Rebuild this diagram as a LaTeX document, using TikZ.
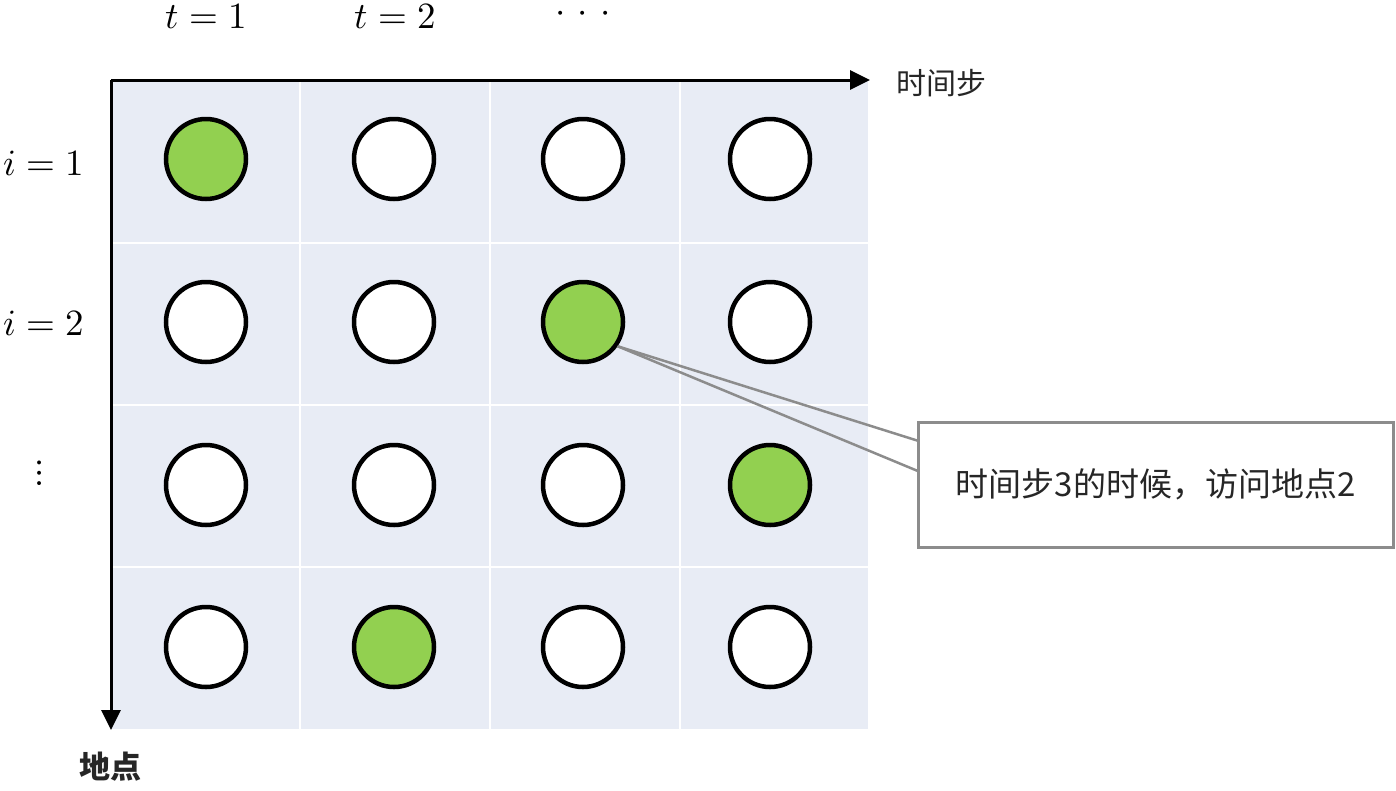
\documentclass[tikz,border=0pt]{standalone}
\usepackage{unicode-math}
\setmathfont{Latin Modern Math}
\newfontfamily\cjk{Noto Sans CJK SC}
\usetikzlibrary{arrows.meta}
\definecolor{cellbg}{HTML}{E8ECF5}
\definecolor{visit}{HTML}{92D050}
\definecolor{txtgray}{HTML}{262626}
\definecolor{callgray}{HTML}{8C8C8C}
\tikzset{
  dot/.style={circle, draw=black, line width=4.5pt, minimum size=80pt, inner sep=0pt, fill=white},
  hit/.style={dot, fill=visit},
  axis/.style={line width=3pt, -{Triangle[length=20pt,width=19pt]}},
  mathlbl/.style={inner sep=0pt, font=\fontsize{37}{42}\selectfont},
  cjklbl/.style={inner sep=0pt, text=txtgray, font=\cjk\fontsize{30}{34}\selectfont},
  callbox/.style={draw=callgray, line width=3pt, fill=white, minimum width=475pt, minimum height=125pt, inner sep=0pt, text=txtgray, font=\cjk\fontsize{33}{37}\selectfont},
  pointer/.style={draw=callgray, line width=2.5pt}
}
\begin{document}
\begin{tikzpicture}[x=1pt, y=-1pt]
\useasboundingbox (0,0) rectangle (1396,790);
% grid background
\fill[cellbg] (111,80) rectangle (868,729);
\foreach \gx in {300,490,680} \draw[white, line width=2pt] (\gx,80) -- (\gx,729);
\foreach \gy in {243,405,567} \draw[white, line width=2pt] (111,\gy) -- (868,\gy);
% axes
\coordinate (O) at (111,80);
\coordinate (xend) at (870,80);
\coordinate (yend) at (111,730);
\draw[axis] (O) -- (xend);
\draw[axis] (O) -- (yend);
\node[cjklbl, anchor=west] (xl) at (896,83) {时间步};
\node[cjklbl, anchor=center, font=\cjk\bfseries\fontsize{31}{34}\selectfont] (yl) at (110,767) {地点};
% top labels
\node[mathlbl, anchor=base] (t1) at (206,28) {$t=1$};
\node[mathlbl, anchor=base] (t2) at (395,28) {$t=2$};
\node[mathlbl, anchor=base] (tdots) at (583,22) {${\cdot}\mkern6mu{\cdot}\mkern6mu{\cdot}$};
% left labels
\node[mathlbl, anchor=base east] (i1) at (84,175) {$i=1$};
\node[mathlbl, anchor=base east] (i2) at (84,335) {$i=2$};
\node[mathlbl] (idots) at (40,473) {$\vdots$};
% circles
\node[hit] (c11) at (206,159) {};
\node[dot] (c12) at (394,159) {};
\node[dot] (c13) at (583,159) {};
\node[dot] (c14) at (770,159) {};
\node[dot] (c21) at (206,322) {};
\node[dot] (c22) at (394,322) {};
\node[hit] (c23) at (583,322) {};
\node[dot] (c24) at (770,322) {};
\node[dot] (c31) at (206,485) {};
\node[dot] (c32) at (394,485) {};
\node[dot] (c33) at (583,485) {};
\node[hit] (c34) at (770,485) {};
\node[dot] (c41) at (206,647) {};
\node[hit] (c42) at (394,647) {};
\node[dot] (c43) at (583,647) {};
\node[dot] (c44) at (770,647) {};
% callout
\coordinate (p1) at (925,443);
\coordinate (p2) at (925,474);
\draw[pointer] (c23.-35) -- (p1);
\draw[pointer] (c23.-35) -- (p2);
\node[callbox] (box) at (1155.5,484.5) {时间步3的时候，访问地点2};
\end{tikzpicture}
\end{document}
